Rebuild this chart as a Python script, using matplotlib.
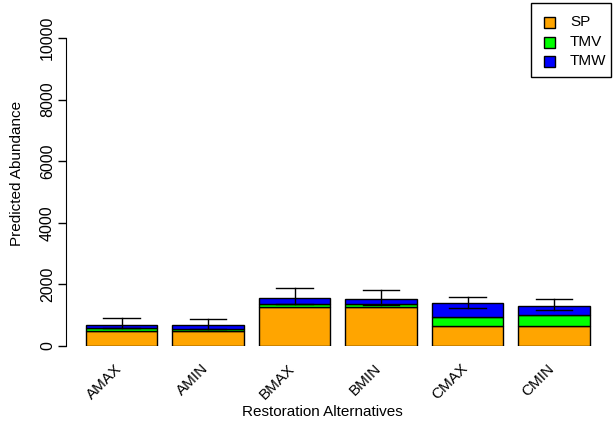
import matplotlib
matplotlib.use("Agg")
import matplotlib.pyplot as plt
from matplotlib.patches import Rectangle
import numpy as np

plt.rcParams['font.family'] = ['Liberation Sans', 'DejaVu Sans']

# === data ===
alternatives = ["AMAX", "AMIN", "BMAX", "BMIN", "CMAX", "CMIN"]
sp = [487, 487, 1277, 1277, 638, 638]
tmv = [88, 55, 87, 76, 314, 368]
tmw = [117, 129, 184, 173, 433, 282]
err_low = [594, 542, 1364, 1331, 1245, 1158]
err_high = [919, 886, 1883, 1829, 1591, 1526]
species = ["SP", "TMV", "TMW"]
colors = ["#FFA500", "#00FF00", "#0000FF"]

W, H = 614, 425
fig = plt.figure(figsize=(W / 100, H / 100), dpi=100)

def fx(px):
    return px / W

def fy(py):
    return 1 - py / H

# axes placed in pixel terms: y=0 at 346px, y=10000 at 38px, spine at 66px
left, right, bottom, top = 66, 600, 346, 38
ax = fig.add_axes([fx(left), fy(bottom), (right - left) / W, (bottom - top) / H])

x = np.arange(len(alternatives))
width = 0.83
ax.bar(x, sp, width, color=colors[0], edgecolor="black", linewidth=1)
ax.bar(x, tmv, width, bottom=sp, color=colors[1], edgecolor="black", linewidth=1)
ax.bar(x, tmw, width, bottom=np.array(sp) + np.array(tmv), color=colors[2],
       edgecolor="black", linewidth=1)

# error bars with caps at both ends
cap = 0.21
for xi, lo, hi in zip(x, err_low, err_high):
    ax.plot([xi, xi], [lo, hi], color="black", lw=1)
    ax.plot([xi - cap, xi + cap], [hi, hi], color="black", lw=1)
    ax.plot([xi - cap, xi + cap], [lo, lo], color="black", lw=1)

x0 = (left - 121.5) / 86.5
ax.set_xlim(x0, x0 + (right - left) / 86.5)
ax.set_ylim(0, 10000)
ax.set_xticks([])
for s in ["top", "right", "bottom"]:
    ax.spines[s].set_visible(False)
ax.spines["left"].set_bounds(0, 10000)
ax.set_yticks(range(0, 10001, 2000))
ax.tick_params(axis="y", length=6, width=1, pad=2, labelsize=11.5)
for lab in ax.get_yticklabels():
    lab.set_rotation(90)
    lab.set_va("center")

# rotated category labels
for xi, name in zip(x, alternatives):
    ax.text(xi - 0.02, -660, name, rotation=45, ha="right", va="center",
            rotation_mode="anchor", fontsize=11, clip_on=False)

fig.text(fx(322), fy(412), "Restoration Alternatives", ha="center", va="center", fontsize=11)
fig.text(fx(17), fy(173), "Predicted Abundance", ha="center", va="center",
         rotation=90, fontsize=11)

# legend drawn by hand (R-style box in the top right corner)
fig.patches.append(Rectangle((fx(531), fy(77)), (611 - 531) / W, 74 / H,
                             transform=fig.transFigure, facecolor="white",
                             edgecolor="black", linewidth=1))
for name, c, yc in zip(species, colors, [22, 42, 61]):
    fig.patches.append(Rectangle((fx(544), fy(yc + 5.5)), 11 / W, 11 / H,
                                 transform=fig.transFigure, facecolor=c,
                                 edgecolor="black", linewidth=1))
    fig.text(fx(570), fy(yc), name, ha="left", va="center", fontsize=11)

fig.savefig("out.png", dpi=100)
